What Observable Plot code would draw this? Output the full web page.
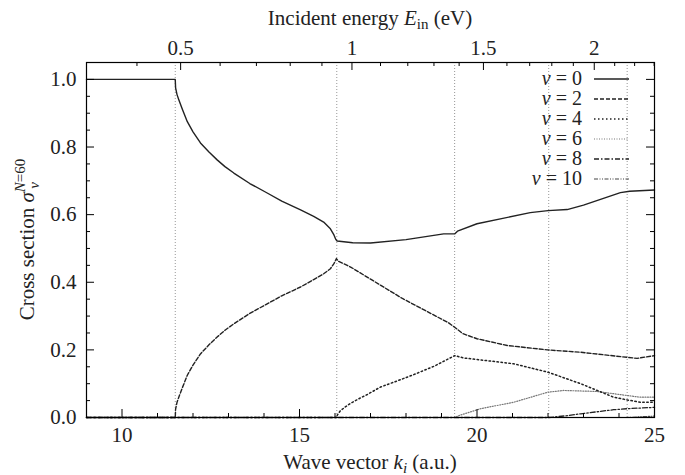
<!DOCTYPE html>
<html><head><meta charset="utf-8">
<script src="https://cdn.jsdelivr.net/npm/d3@7"></script>
<script src="https://cdn.jsdelivr.net/npm/@observablehq/plot@0.6"></script>
<style>body{margin:0;background:#fff} svg{display:block}</style>
</head><body><div id="chart"></div>
<script>
// ---- data ----
const k0 = [9, 11.5, 11.51, 11.55, 11.6, 11.7, 11.84, 12.0, 12.21, 12.45, 12.68, 12.9, 13.15, 13.6, 14.09, 14.5, 15.03, 15.4, 15.68, 15.87, 15.97, 16.02, 16.06, 16.5, 17.0, 18.0, 19.06, 19.37, 19.45, 20.0, 21.5, 22.0, 22.54, 23.0, 24.04, 24.3, 25];
const s0 = [1.0, 1.0, 0.975, 0.955, 0.94, 0.912, 0.875, 0.845, 0.812, 0.785, 0.762, 0.742, 0.723, 0.692, 0.664, 0.64, 0.614, 0.595, 0.578, 0.558, 0.54, 0.527, 0.522, 0.517, 0.516, 0.526, 0.543, 0.543, 0.551, 0.573, 0.606, 0.612, 0.615, 0.628, 0.665, 0.669, 0.673];
const k2 = [9, 11.5, 11.51, 11.55, 11.6, 11.7, 11.84, 12.0, 12.21, 12.45, 12.68, 12.9, 13.15, 13.6, 14.09, 14.5, 15.03, 15.4, 15.68, 15.87, 15.97, 16.04, 16.1, 16.44, 17.9, 19.2, 19.37, 19.6, 20.0, 20.85, 21.98, 22.92, 24.23, 24.51, 25];
const s2 = [0, 0, 0.025, 0.045, 0.06, 0.088, 0.125, 0.155, 0.188, 0.215, 0.238, 0.258, 0.277, 0.308, 0.336, 0.36, 0.386, 0.408, 0.425, 0.44, 0.455, 0.47, 0.462, 0.445, 0.352, 0.28, 0.267, 0.248, 0.233, 0.213, 0.2, 0.193, 0.178, 0.175, 0.183];
const k4 = [9, 16.04, 16.07, 16.15, 16.3, 16.44, 16.7, 16.91, 17.28, 17.85, 18.2, 18.8, 19.37, 19.63, 21.03, 22.0, 22.92, 23.85, 24.23, 24.6, 25];
const s4 = [0, 0, 0.008, 0.02, 0.032, 0.042, 0.057, 0.068, 0.09, 0.112, 0.126, 0.152, 0.183, 0.176, 0.159, 0.134, 0.1, 0.06, 0.052, 0.045, 0.045];
const k6 = [9, 19.37, 19.5, 20.1, 21.03, 22.0, 22.44, 23.38, 24.23, 24.6, 25];
const s6 = [0, 0, 0.006, 0.026, 0.045, 0.075, 0.08, 0.077, 0.065, 0.06, 0.06];
const k8 = [9, 22.02, 22.5, 22.92, 23.85, 24.23, 25];
const s8 = [0, 0, 0.005, 0.011, 0.023, 0.026, 0.03];
const k10 = [9, 24.23, 24.6, 25];
const s10 = [0, 0, 0.002, 0.004];
const thresholds = [11.5, 16.05, 19.37, 22.02, 24.23];
const nuLabels = ["0", "2", "4", "6", "8", "10"];
const xMajor = [10, 15, 20, 25];
const xMinor = [9, 11, 12, 13, 14, 16, 17, 18, 19, 21, 22, 23, 24];
const yMajor = [0, 0.2, 0.4, 0.6, 0.8, 1.0];
const yMinor = [0.05, 0.1, 0.15, 0.25, 0.3, 0.35, 0.45, 0.5, 0.55, 0.65, 0.7, 0.75, 0.85, 0.9, 0.95];
const eMajor = [0.5, 1, 1.5, 2];
const eMinor = [0.4, 0.6, 0.7, 0.8, 0.9, 1.1, 1.2, 1.3, 1.4, 1.6, 1.7, 1.8, 1.9, 2.1, 2.2, 2.3];
const C = 0.003683; // eV per (a.u.)^2 : E = C k^2

// ---- layout ----
const W = 685, H = 475, mL = 86, mR = 31, mT = 62, mB = 58;
const pw = W - mL - mR, ph = H - mT - mB;
const FONT = "Liberation Serif, Times New Roman, DejaVu Serif, serif";
const INK = "#222";
const FS = 21;

const series = [
  {k: k0, s: s0, stroke: "#222", dash: null, w: 1.4},
  {k: k2, s: s2, stroke: "#222", dash: "4,2", w: 1.4},
  {k: k4, s: s4, stroke: "#222", dash: "1.5,2.5", w: 1.5},
  {k: k6, s: s6, stroke: "#777", dash: "1,1.5", w: 1.2},
  {k: k8, s: s8, stroke: "#222", dash: "5,2,1.5,2", w: 1.3},
  {k: k10, s: s10, stroke: "#444", dash: "4,1.5,1,1.5,1,1.5", w: 1.2}
].map((d, i) => ({...d, nu: nuLabels[i], rows: d.k.map((k, j) => ({k, s: d.s[j]}))}));

const kOfE = e => Math.sqrt(e / C);

const plot = Plot.plot({
  width: W, height: H,
  marginLeft: mL, marginRight: mR, marginTop: mT, marginBottom: mB,
  style: {fontFamily: FONT, fontSize: FS + "px", color: INK, background: "#fff"},
  x: {domain: [9, 25], label: null},
  y: {domain: [0, 1.05], label: null},
  marks: [
    Plot.ruleX(thresholds, {x: d => d, stroke: "#8a8a8a", strokeWidth: 0.9, strokeDasharray: "1,2"}),
    ...series.slice().reverse().map(d => Plot.line(d.rows, {x: "k", y: "s", stroke: d.stroke, strokeWidth: d.w, strokeDasharray: d.dash})),
    // inward ticks
    Plot.ruleX(xMajor, {x: d => d, insetTop: ph - 8, stroke: "#000"}),
    Plot.ruleX(xMinor, {x: d => d, insetTop: ph - 4, stroke: "#000"}),
    Plot.ruleX(eMajor.map(kOfE), {x: d => d, insetBottom: ph - 8, stroke: "#000"}),
    Plot.ruleX(eMinor.map(kOfE).filter(k => k <= 25), {x: d => d, insetBottom: ph - 4, stroke: "#000"}),
    Plot.ruleY(yMajor, {y: d => d, insetRight: pw - 8, stroke: "#000"}),
    Plot.ruleY(yMinor, {y: d => d, insetRight: pw - 4, stroke: "#000"}),
    Plot.ruleY(yMajor, {y: d => d, insetLeft: pw - 8, stroke: "#000"}),
    Plot.ruleY(yMinor, {y: d => d, insetLeft: pw - 4, stroke: "#000"}),
    Plot.frame({stroke: "#000", strokeWidth: 1.2}),
    Plot.axisX(xMajor, {anchor: "bottom", tickSize: 0, tickPadding: 10, fill: INK, label: null, fontSize: FS}),
    Plot.axisX(eMajor.map(kOfE), {anchor: "top", tickSize: 0, tickPadding: 8, fill: INK, label: null, fontSize: FS,
      tickFormat: k => d3.format("~g")(+(C * k * k).toFixed(1))}),
    Plot.axisY(yMajor, {anchor: "left", tickSize: 0, tickPadding: 10, fill: INK, label: null, fontSize: FS, tickFormat: d3.format(".1f")})
  ]
});

document.getElementById("chart").appendChild(plot);
const svg = d3.select(plot);

function addText(x, y, parts, attrs = {}) {
  const t = svg.append("text").attr("x", x).attr("y", y)
    .attr("fill", INK).attr("font-family", FONT).attr("font-size", FS);
  for (const [a, v] of Object.entries(attrs)) t.attr(a, v);
  for (const p of parts) {
    const ts = t.append("tspan").text(p.t);
    if (p.i) ts.attr("font-style", "italic");
    if (p.dy != null) ts.attr("dy", p.dy);
    if (p.dx != null) ts.attr("dx", p.dx);
    if (p.fs) ts.attr("font-size", p.fs);
  }
  return t;
}

const cx = mL + pw / 2;
// top title
addText(cx, 25, [
  {t: "Incident energy "}, {t: "E", i: true}, {t: "in", fs: 15, dy: 4}, {t: " (eV)", dy: -4}
], {"text-anchor": "middle"});
// bottom title
addText(cx, 469, [
  {t: "Wave vector "}, {t: "k", i: true}, {t: "i", i: true, fs: 15, dy: 4}, {t: " (a.u.)", dy: -4}
], {"text-anchor": "middle"});
// y title
const yc = mT + ph / 2;
addText(34, yc, [
  {t: "Cross section "}, {t: "σ", i: true},
  {t: "N", i: true, fs: 15, dy: -9}, {t: "=60", fs: 15},
  {t: "ν", i: true, fs: 15, dx: -30, dy: 14}
], {"text-anchor": "middle", transform: `rotate(-90, 34, ${yc})`});

// legend (inside top-right)
series.forEach((d, i) => {
  const y = 79 + i * 20;
  addText(582, y + 6, [{t: "ν", i: true}, {t: " = " + d.nu}], {"text-anchor": "end", "font-size": 20});
  svg.append("line").attr("x1", 594).attr("x2", 629).attr("y1", y).attr("y2", y)
    .attr("stroke", d.stroke).attr("stroke-width", d.w).attr("stroke-dasharray", d.dash);
});
</script>
</body></html>
